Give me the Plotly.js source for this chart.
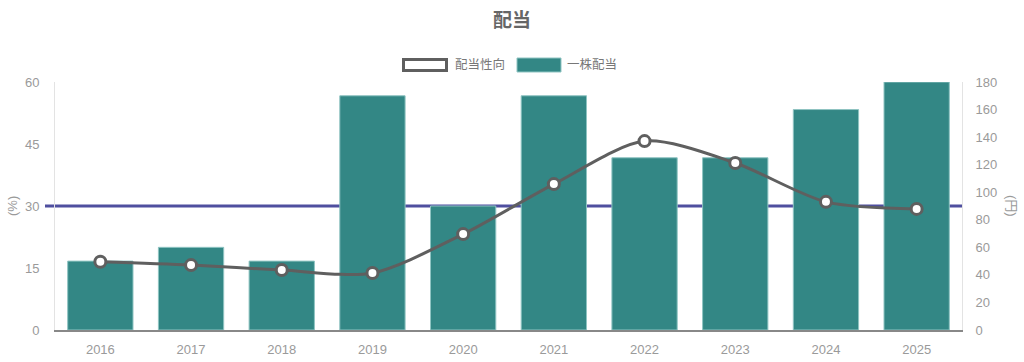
<!DOCTYPE html>
<html><head><meta charset="utf-8">
<script src="https://cdn.plot.ly/plotly-3.0.1.min.js"></script>
<style>html,body{margin:0;padding:0;background:#fff}#chart{width:1024px;height:362px}</style>
</head><body><div id="chart"></div>
<script>
const years = ['2016','2017','2018','2019','2020','2021','2022','2023','2024','2025'];
const dividend = [50, 60, 50, 170, 90, 170, 125, 125, 160, 180];
const payoutRatio = [16.5, 15.7, 14.5, 13.8, 23.2, 35.3, 45.7, 40.4, 31.0, 29.3];
const targetRatio = 30;
const leftTicks = [0, 15, 30, 45, 60];
const rightTicks = [0, 20, 40, 60, 80, 100, 120, 140, 160, 180];
const seriesNames = ['配当性向', '一株配当'];

const font = '"Liberation Sans", "Noto Sans CJK JP", sans-serif';
const grey = '#9a9a9a';
const teal = '#338785';
const lineGrey = '#5f5f5f';

const traces = [
  {type:'bar', x:years, y:dividend, name:seriesNames[1], yaxis:'y', width:0.72,
   marker:{color:teal, line:{color:'#8fc4c2', width:1}}},
  {type:'scatter', mode:'lines+markers', x:years, y:payoutRatio, name:seriesNames[0], yaxis:'y2',
   line:{color:lineGrey, width:3, shape:'spline', smoothing:0.8},
   marker:{size:11, color:'#fff', line:{color:lineGrey, width:3}}}
];

// paper coords helpers for the plot area (l=55, r=62, t=82, b=32)
const W = 1024 - 55 - 62, H = 362 - 82 - 32;
const px = x => (x - 55) / W;
const py = y => (362 - 32 - y) / H;

const layout = {
  width:1024, height:362,
  margin:{l:55, r:62, t:82, b:32},
  paper_bgcolor:'#fff', plot_bgcolor:'#fff',
  font:{family:font, color:grey, size:13},
  title:{text:'<b>配当</b>', x:0.5, xanchor:'center', y:1-20/362, yanchor:'middle', font:{size:19, color:'#666', family:font}},
  showlegend:false,
  barmode:'overlay',
  xaxis:{type:'category', range:[-0.5, 9.5], showgrid:false, showline:true, linecolor:'#888', linewidth:1.5, ticks:'', tickfont:{size:13, color:grey}, ticklabelstandoff:7},
  yaxis:{range:[0,180], tickvals:rightTicks, side:'right', showgrid:false, zeroline:false, showline:true, linecolor:'#e3e3e3', ticks:'', ticklabelstandoff:10, tickfont:{size:13, color:grey}},
  yaxis2:{range:[0,60], tickvals:leftTicks, overlaying:'y', side:'left', showgrid:false, zeroline:false, showline:true, linecolor:'#e3e3e3', ticks:'', ticklabelstandoff:12, tickfont:{size:13, color:grey}},
  shapes:[
    {type:'line', xref:'paper', yref:'y2', x0:px(45), x1:1, y0:targetRatio, y1:targetRatio, line:{color:'#4f4f9f', width:3}, layer:'below'},
    {type:'rect', xref:'paper', yref:'paper', x0:px(403.5), x1:px(446.5), y0:py(70.5), y1:py(59.5), line:{color:lineGrey, width:3}, fillcolor:'#fff'},
    {type:'rect', xref:'paper', yref:'paper', x0:px(517), x1:px(561), y0:py(72), y1:py(58), line:{color:'#8fc4c2', width:1}, fillcolor:teal}
  ],
  annotations:[
    {text:seriesNames[0], xref:'paper', yref:'paper', x:px(453), y:py(64), xanchor:'left', yanchor:'middle', showarrow:false, font:{size:12.5, color:'#777'}},
    {text:seriesNames[1], xref:'paper', yref:'paper', x:px(565), y:py(64), xanchor:'left', yanchor:'middle', showarrow:false, font:{size:12.5, color:'#777'}},
    {text:'(%)', xref:'paper', yref:'paper', x:px(12), y:0.5, xanchor:'center', yanchor:'middle', textangle:-90, showarrow:false, font:{size:13, color:grey}},
    {text:'(円)', xref:'paper', yref:'paper', x:px(1012), y:0.5, xanchor:'center', yanchor:'middle', textangle:90, showarrow:false, font:{size:13, color:grey}}
  ]
};
Plotly.newPlot('chart', traces, layout, {displayModeBar:false, staticPlot:true});
</script></body></html>
